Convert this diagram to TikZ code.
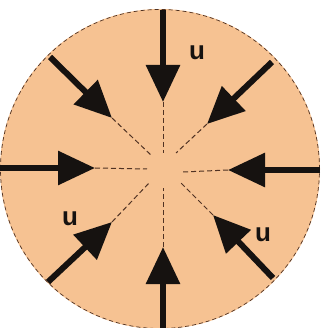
\documentclass[tikz,border=0pt]{standalone}
\usepackage{fontspec}
\setmainfont{Liberation Sans}
\usetikzlibrary{arrows.meta}
\definecolor{peach}{RGB}{246,194,146}
\definecolor{ink}{RGB}{22,18,16}
\definecolor{guidec}{RGB}{80,50,35}
\begin{document}
\begin{tikzpicture}[x=1pt,y=-1pt,
  arr/.style={line width=6pt, draw=ink, -{Triangle[length=37pt,width=33pt]}},
  guide/.style={draw=guidec, line width=1pt, dash pattern=on 5pt off 3pt},
  lab/.style={font=\fontsize{26}{26}\selectfont\bfseries, text=ink, inner sep=0pt}]
\useasboundingbox (0,0) rectangle (320,328);
\coordinate (c) at (160,169);
\fill[peach] (c) circle (160pt);
\draw[guidec, line width=0.7pt, dash pattern=on 4pt off 3pt] (c) circle (159.5pt);
% start, tip, inner
\coordinate (s1) at (163,10);  \coordinate (t1) at (163,102); \coordinate (i1) at (163,153);
\coordinate (s2) at (50,57);   \coordinate (t2) at (112,118); \coordinate (i2) at (152,156);
\coordinate (s3) at (272,62);  \coordinate (t3) at (207,124); \coordinate (i3) at (176,153);
\coordinate (s4) at (0,168);   \coordinate (t4) at (95,168);  \coordinate (i4) at (147,169);
\coordinate (s5) at (320,170); \coordinate (t5) at (228,170); \coordinate (i5) at (183,172);
\coordinate (s6) at (48,282);  \coordinate (t6) at (112,222); \coordinate (i6) at (150,182);
\coordinate (s7) at (273,278); \coordinate (t7) at (213,215); \coordinate (i7) at (180,182);
\coordinate (s8) at (163,328); \coordinate (t8) at (163,247); \coordinate (i8) at (163,188);
\foreach \k in {1,...,8} {
  \draw[guide] (t\k) -- (i\k);
  \draw[arr] (s\k) -- (t\k);
}
\node[lab] (u1) at (197,53) {u};
\node[lab] (u2) at (70,219) {u};
\node[lab] (u3) at (263,235) {u};
\end{tikzpicture}
\end{document}
